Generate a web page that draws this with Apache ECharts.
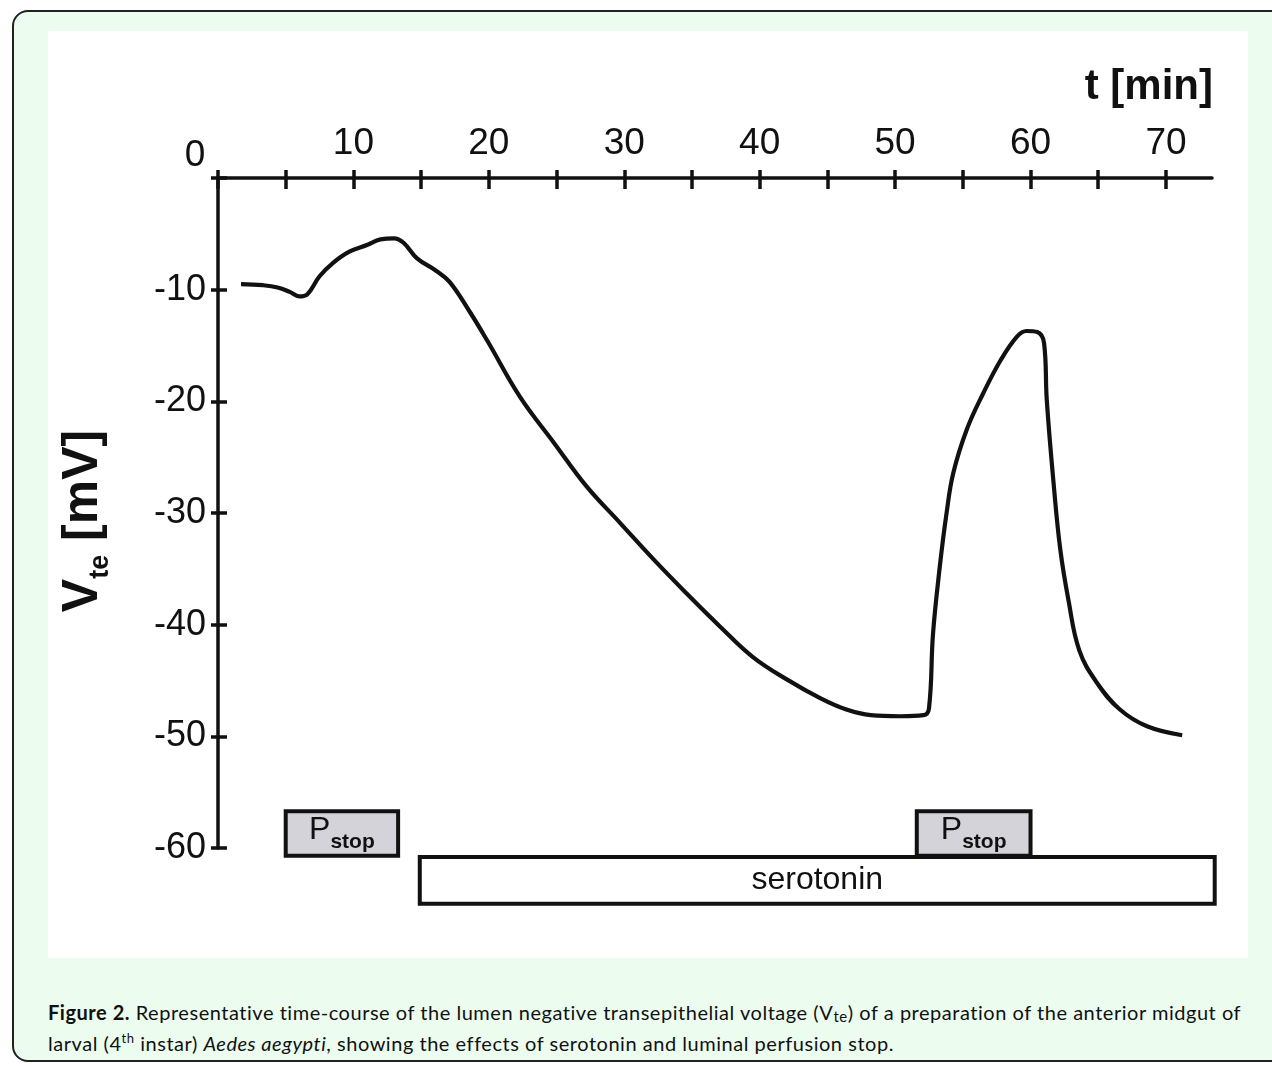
<!DOCTYPE html>
<html>
<head>
<meta charset="utf-8">
<script src="https://cdn.jsdelivr.net/npm/echarts@6/dist/echarts.min.js"></script>
<style>
  html, body { margin: 0; padding: 0; width: 1272px; height: 1066px; overflow: hidden; background: #ffffff; }
  #frame { position: absolute; left: 12px; top: 10px; width: 1290px; height: 1052px; border: 2px solid #222; border-radius: 16px; background: #ecfdf0; box-sizing: border-box; }
  #chart { position: absolute; left: 48px; top: 31px; width: 1200px; height: 927px; background: #fff; }
  #caption { position: absolute; left: 48px; top: 997px; font-family: Lato, "Open Sans", sans-serif; font-size: 20px; letter-spacing: 0.53px; line-height: 31px; color: #111; white-space: nowrap; }
  #caption b { font-weight: 700; }
  #caption sup { font-size: 0.65em; vertical-align: 0.6em; line-height: 0; }
  #caption sub { font-size: 0.75em; vertical-align: -0.15em; line-height: 0; }
</style>
</head>
<body>
<div id="frame"></div>
<div id="chart"></div>
<div id="caption"><b>Figure 2.</b> Representative time-course of the lumen negative transepithelial voltage (V<sub>te</sub>) of a preparation of the anterior midgut of<br>larval (4<sup>th</sup> instar) <i>Aedes aegypti</i>, showing the effects of serotonin and luminal perfusion stop.</div>
<script>
// ---- data ----
const time = [1.7, 3.3, 4.4, 5.3, 6.0, 6.6, 7.5, 8.5, 9.7, 11.0, 12.0, 13.0, 13.7, 14.7, 16.1, 17.1, 18.6, 19.9, 22.3, 24.8, 27.2, 29.7, 32.2, 34.6, 37.1, 39.5, 42.0, 44.5, 46.4, 48.2, 50.4, 52.1, 52.5, 52.8, 53.3, 53.8, 54.3, 55.3, 56.5, 57.8, 59.0, 59.7, 60.5, 61.0, 61.2, 61.7, 62.2, 62.8, 63.6, 64.9, 66.6, 68.6, 71.2];
const voltage = [-9.5, -9.6, -9.8, -10.2, -10.6, -10.4, -8.8, -7.6, -6.6, -6.0, -5.5, -5.4, -5.8, -7.2, -8.3, -9.3, -12.0, -14.6, -19.6, -23.7, -27.6, -30.9, -34.2, -37.2, -40.2, -42.9, -44.9, -46.6, -47.6, -48.1, -48.2, -48.1, -47.5, -40.8, -34.8, -30.0, -26.4, -22.5, -19.3, -16.3, -14.2, -13.7, -13.8, -14.8, -19.9, -27.3, -33.3, -37.8, -42.3, -45.2, -47.6, -49.1, -49.9];
const pstopStart = [5.0, 51.6];
const pstopEnd = [13.3, 60.0];
const serotoninStart = [14.9];
const serotoninEnd = [73.6];
const xTicks = [0, 5, 10, 15, 20, 25, 30, 35, 40, 45, 50, 55, 60, 65, 70];
const xTickLabels = [0, 10, 20, 30, 40, 50, 60, 70];
const yTicks = [0, -10, -20, -30, -40, -50, -60];
const yTickLabels = [-10, -20, -30, -40, -50, -60];

// ---- chart ----
const chart = echarts.init(document.getElementById('chart'), null, { renderer: 'canvas' });
const FONT = '"Liberation Sans", Arial, sans-serif';
const INK = '#111';

const lineData = time.map((t, i) => [t, voltage[i]]);
const pstopData = pstopStart.map((s, i) => [s, pstopEnd[i]]);
const seroData = serotoninStart.map((s, i) => [s, serotoninEnd[i]]);

function boxRenderer(yTop, yBottom, fill, textStyle, dy) {
  return function (params, api) {
    const p1 = api.coord([api.value(0), yTop]);
    const p2 = api.coord([api.value(1), yBottom]);
    return {
      type: 'group',
      children: [
        { type: 'rect', shape: { x: p1[0], y: p1[1], width: p2[0] - p1[0], height: p2[1] - p1[1] },
          style: { fill: fill, stroke: INK, lineWidth: 4 } },
        { type: 'text', x: (p1[0] + p2[0]) / 2, y: (p1[1] + p2[1]) / 2 + (dy || 0),
          style: Object.assign({ align: 'center', verticalAlign: 'middle' }, textStyle) }
      ]
    };
  };
}

const baseX = { type: 'value', position: 'top', min: 0, max: 73.4, splitLine: { show: false } };
const baseY = { type: 'value', position: 'left', min: -60, max: 0, splitLine: { show: false } };

chart.setOption({
  backgroundColor: '#ffffff',
  animation: false,
  title: {
    text: 't [min]', right: 30, top: 30,
    textStyle: { fontFamily: FONT, fontSize: 42, fontWeight: 'bold', color: INK }
  },
  grid: { left: 170, right: 36, top: 147, bottom: 110, containLabel: false },
  xAxis: [
    Object.assign({}, baseX, {
      axisLine: { onZero: false, lineStyle: { color: INK, width: 3.5 } },
      axisTick: { inside: false, length: 8, customValues: xTicks, lineStyle: { color: INK, width: 3.5 } },
      axisLabel: {
        customValues: xTickLabels, margin: 4,
        formatter: v => v === 0 ? '{z|0}' : '{n|' + v + '}',
        rich: {
          n: { fontFamily: FONT, fontSize: 37, color: INK, padding: [0, 0, 12, 0] },
          z: { fontFamily: FONT, fontSize: 37, color: INK, padding: [0, 46, 0, 0] }
        }
      }
    }),
    Object.assign({}, baseX, {
      axisLine: { show: false, onZero: false },
      axisTick: { inside: true, length: 11, customValues: xTicks, lineStyle: { color: INK, width: 3.5 } },
      axisLabel: { show: false }
    })
  ],
  yAxis: [
    Object.assign({}, baseY, {
      axisLine: { onZero: false, lineStyle: { color: INK, width: 3.5 } },
      axisTick: { inside: false, length: 7, customValues: yTicks, lineStyle: { color: INK, width: 3.5 } },
      axisLabel: { customValues: yTickLabels, margin: 12, fontFamily: FONT, fontSize: 36, color: INK },
      name: '{v|V}{s|te}{w| [mV]}',
      nameLocation: 'middle', nameRotate: 90, nameGap: 104,
      nameTextStyle: {
        rich: {
          v: { fontFamily: FONT, fontSize: 50, fontWeight: 'bold', color: INK, verticalAlign: 'bottom', padding: [0, 0, 6, 0] },
          w: { fontFamily: FONT, fontSize: 50, fontWeight: 'bold', color: INK, verticalAlign: 'bottom', padding: [0, 16, 6, 0] },
          s: { fontFamily: FONT, fontSize: 27, fontWeight: 'bold', color: INK, verticalAlign: 'bottom' }
        }
      }
    }),
    Object.assign({}, baseY, {
      axisLine: { show: false, onZero: false },
      axisTick: { inside: true, length: 9, customValues: yTicks, lineStyle: { color: INK, width: 3.5 } },
      axisLabel: { show: false }
    })
  ],
  series: [
    {
      type: 'line', data: lineData, showSymbol: false, smooth: 0.4,
      lineStyle: { color: INK, width: 4.2 }, z: 3
    },
    {
      type: 'custom', data: pstopData, clip: false, z: 4,
      renderItem: boxRenderer(-56.7, -60.7, '#d4d3da', {
        text: '{p|P}{s|stop}',
        rich: {
          p: { fontFamily: FONT, fontSize: 32, fill: INK, verticalAlign: 'bottom', padding: [0, 0, 7, 0] },
          s: { fontFamily: FONT, fontSize: 21, fontWeight: 'bold', fill: INK, verticalAlign: 'bottom' }
        }
      }, 0)
    },
    {
      type: 'custom', data: seroData, clip: false, z: 2,
      renderItem: boxRenderer(-60.8, -65.0, '#ffffff', {
        text: 'serotonin', fontFamily: FONT, fontSize: 32, fill: INK
      }, 0)
    }
  ]
});
</script>
</body>
</html>
